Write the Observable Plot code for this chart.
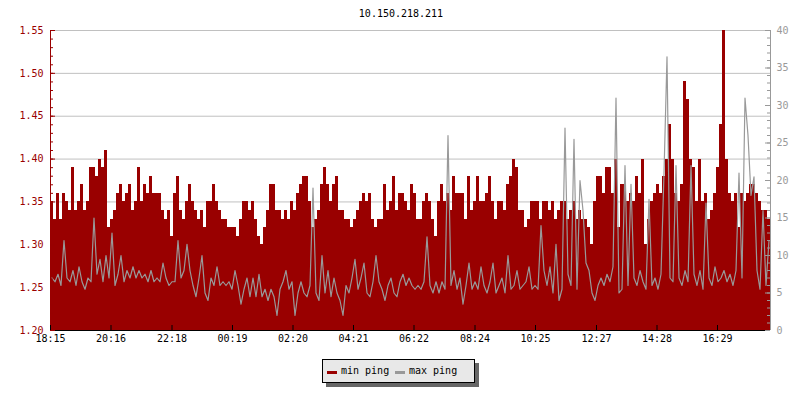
<!DOCTYPE html>
<html>
<head>
<meta charset="utf-8">
<script src="https://cdn.jsdelivr.net/npm/d3@7"></script>
<script src="https://cdn.jsdelivr.net/npm/@observablehq/plot@0.6"></script>
<style>
  body { margin: 0; background: #fff; }
  #wrap { position: relative; width: 800px; height: 400px; font-family: "DejaVu Sans Mono", monospace; }
  #wrap svg { position: absolute; left: 0; top: 0; }
  #title { position: absolute; top: 8px; left: 1px; width: 800px; text-align: center; font-size: 10px; line-height: 12px; color: #000; }
  #legend { position: absolute; left: 322px; top: 359px; width: 151px; height: 22px; background: #e8e8e8; border: 1px solid #000; box-shadow: 4px 4px 0 #666; font-size: 10px; }
  #legend .sw { position: absolute; top: 11px; width: 10px; height: 3px; }
  #legend .tx { position: absolute; top: 0; line-height: 22px; color: #000; white-space: nowrap; }
</style>
</head>
<body>
<div id="wrap">
  <div id="title"></div>
  <div id="legend"></div>
</div>
<script>
const chartTitle = "10.150.218.211";
const seriesNames = ["min ping", "max ping"];
const seriesColors = ["#990000", "#999999"];

// x tick labels (time of day)
const xTickLabels = ["18:15","20:16","22:18","00:19","02:20","04:21","06:22","08:24","10:25","12:27","14:28","16:29"];
const startLabel = "18:15";
const spanMinutes = 1440;
const sampleMinutes = 6;

// left axis (min ping) and right axis (max ping)
const leftDomain = [1.20, 1.55];
const leftMajor = [1.20, 1.25, 1.30, 1.35, 1.40, 1.45, 1.50, 1.55];
const leftMinorStep = 0.01;
const rightDomain = [0, 40];
const rightMajor = [0, 5, 10, 15, 20, 25, 30, 35, 40];

// min ping (left axis), one value per sample
const minPing = [
1.35,1.33,1.36,1.33,1.36,1.35,1.34,1.39,1.34,1.35,
1.37,1.34,1.35,1.39,1.39,1.38,1.40,1.39,1.41,1.32,
1.33,1.34,1.36,1.37,1.35,1.36,1.37,1.34,1.35,1.39,
1.35,1.37,1.36,1.38,1.36,1.36,1.36,1.34,1.33,1.34,
1.31,1.36,1.38,1.34,1.33,1.35,1.37,1.35,1.34,1.33,
1.34,1.32,1.35,1.35,1.37,1.35,1.34,1.33,1.33,1.32,
1.32,1.32,1.31,1.33,1.35,1.35,1.34,1.35,1.33,1.31,
1.30,1.32,1.34,1.37,1.37,1.34,1.34,1.33,1.34,1.33,
1.35,1.34,1.36,1.37,1.38,1.38,1.35,1.32,1.33,1.34,
1.37,1.39,1.37,1.35,1.37,1.38,1.34,1.34,1.33,1.33,
1.32,1.33,1.34,1.35,1.36,1.35,1.36,1.33,1.32,1.33,
1.33,1.37,1.34,1.35,1.38,1.34,1.36,1.36,1.35,1.34,
1.37,1.36,1.33,1.33,1.35,1.36,1.35,1.33,1.31,1.35,
1.37,1.35,1.36,1.34,1.38,1.36,1.36,1.36,1.33,1.38,
1.34,1.35,1.38,1.35,1.35,1.36,1.38,1.35,1.33,1.35,
1.35,1.34,1.37,1.38,1.40,1.39,1.34,1.34,1.32,1.33,
1.35,1.35,1.35,1.33,1.35,1.35,1.34,1.35,1.33,1.34,
1.35,1.35,1.33,1.34,1.35,1.33,1.34,1.33,1.33,1.32,
1.30,1.35,1.38,1.38,1.36,1.39,1.39,1.36,1.40,1.32,
1.37,1.37,1.35,1.36,1.35,1.38,1.36,1.40,1.30,1.33,
1.35,1.36,1.37,1.36,1.38,1.40,1.44,1.40,1.36,1.35,
1.37,1.49,1.47,1.40,1.39,1.35,1.40,1.35,1.36,1.33,
1.34,1.36,1.39,1.44,1.55,1.40,1.36,1.35,1.36,1.32,
1.36,1.35,1.36,1.37,1.37,1.36,1.35,1.34,1.34,1.33
];

// max ping (right axis), one value per sample
const maxPing = [
7,6.5,7.5,6,12,7,6.5,8,6,8.5,
6.5,5.5,7,6.5,15,7.5,9.5,6.5,10,7,
13,6,7.5,10,6.5,8,7,8.5,7,8,
7,7.5,6.5,8,6.5,7,6.5,9,7,6,
6.5,6.5,12,7,8,11.5,8,6,4.5,7,
10,5,4,7,6,8.5,6,6.5,6,6.5,
5.5,8,6,3.5,5.5,7,4.5,7,4.5,7.5,
4.5,5.5,4,5.5,4.5,2,5.5,6.5,8,5.5,
6.5,2,5,6.5,5,4.5,6,19,5,4,
10,5,8,4.5,7,5,4,2,6,5,
7,9.5,5.5,7,9,5,4.5,6.5,10,6.5,
5.5,4,6,7,5,4.5,6.5,7.5,6,7,
6,5.5,6,5.5,6.5,12.5,6,5,6.5,5,
6.5,5.5,26,6,8,5.5,7,3.5,6,9,
5.5,6.5,5.5,8.5,6,5,6.5,9,5,6,
7,5,10,5.5,6,8,5.5,6,6.5,8.5,
5.5,6,5.5,14,8,6,8.5,5,11.5,4,
5.5,27,7.5,6,25.5,5.5,20,16,9,8,
5,4,6,7,6,7.5,6.5,8.5,31,5,
5.5,22,6,19.5,7,6,8,6.5,5.5,17.5,
6,7,5.5,7.5,21,36.5,7,6.5,22,7,
6,8,6.5,22,7.5,6,8,5.5,17,7,
6,8.5,6.5,7,8,6.5,7.5,6,8,21,
7,31,26,18,20.5,8,5.5,16,6,12
];

const toMin = s => { const [h, m] = s.split(":").map(Number); return h * 60 + m; };
const start = toMin(startLabel);
const xTicks = xTickLabels.map(s => ({ label: s, t: (toMin(s) - start + 1440) % 1440 }));

// secondary axis: map right-axis values onto the left (y) scale
const r2y = v => leftDomain[0] + (v - rightDomain[0]) * (leftDomain[1] - leftDomain[0]) / (rightDomain[1] - rightDomain[0]);

const rows = minPing.map((v, i) => ({ t: i * sampleMinutes, min: v, max: maxPing[i] }));

const leftMinor = d3.range(Math.round((leftDomain[1] - leftDomain[0]) / leftMinorStep) + 1)
  .map(i => +(leftDomain[0] + i * leftMinorStep).toFixed(2));
const rightMinor = d3.range(rightDomain[0], rightDomain[1] + 1);

const chart = Plot.plot({
  width: 800, height: 400,
  marginLeft: 50, marginRight: 30, marginTop: 30, marginBottom: 70,
  style: { fontFamily: "'DejaVu Sans Mono', monospace", fontSize: "10px", background: "transparent", overflow: "visible" },
  x: { domain: [0, spanMinutes], axis: null },
  y: { domain: leftDomain, axis: null },
  marks: [
    Plot.ruleY(leftMajor.slice(1), { stroke: "#c0c0c0" }),
    Plot.rect(rows, { x1: "t", x2: d => d.t + sampleMinutes, y1: () => leftDomain[0], y2: "min", fill: seriesColors[0], shapeRendering: "crispEdges" }),
    Plot.line(rows, { x: d => d.t + sampleMinutes / 2, y: d => r2y(d.max), stroke: seriesColors[1], strokeWidth: 1.2, curve: "linear" }),
    // axis lines
    Plot.ruleX([0], { stroke: seriesColors[0] }),
    Plot.ruleX([spanMinutes], { stroke: "#999999" }),
    Plot.ruleY([leftDomain[0]], { stroke: "#000" }),
    // left ticks
    Plot.ruleY(leftMinor, { stroke: seriesColors[0], insetRight: 717 }),
    Plot.ruleY(leftMajor, { stroke: seriesColors[0], insetRight: 715 }),
    // right ticks
    Plot.ruleY(rightMinor, { y: d => r2y(d), stroke: "#999999", insetLeft: 717 }),
    Plot.ruleY(rightMajor, { y: d => r2y(d), stroke: "#999999", insetLeft: 715 }),
    // bottom ticks
    Plot.ruleX(xTicks, { x: "t", stroke: "#000", insetTop: 295 }),
    // labels
    Plot.text(leftMajor, { frameAnchor: "left", y: d => d, text: d => d.toFixed(2), dx: -7, textAnchor: "end", fill: seriesColors[0] }),
    Plot.text(rightMajor, { frameAnchor: "right", y: d => r2y(d), text: d => String(d), dx: 6, textAnchor: "start", fill: "#999999" }),
    Plot.text(xTicks, { frameAnchor: "bottom", x: "t", text: "label", dy: 11, fill: "#000" })
  ]
});

const wrap = document.getElementById("wrap");
wrap.insertBefore(chart, wrap.firstChild);
document.getElementById("title").textContent = chartTitle;

const legend = document.getElementById("legend");
const legendPos = [{ sw: 4, tx: 18 }, { sw: 72, tx: 86 }];
seriesNames.forEach((name, i) => {
  const sw = document.createElement("div");
  sw.className = "sw"; sw.style.left = legendPos[i].sw + "px"; sw.style.background = seriesColors[i];
  const tx = document.createElement("div");
  tx.className = "tx"; tx.style.left = legendPos[i].tx + "px"; tx.textContent = name;
  legend.appendChild(sw); legend.appendChild(tx);
});
</script>
</body>
</html>
